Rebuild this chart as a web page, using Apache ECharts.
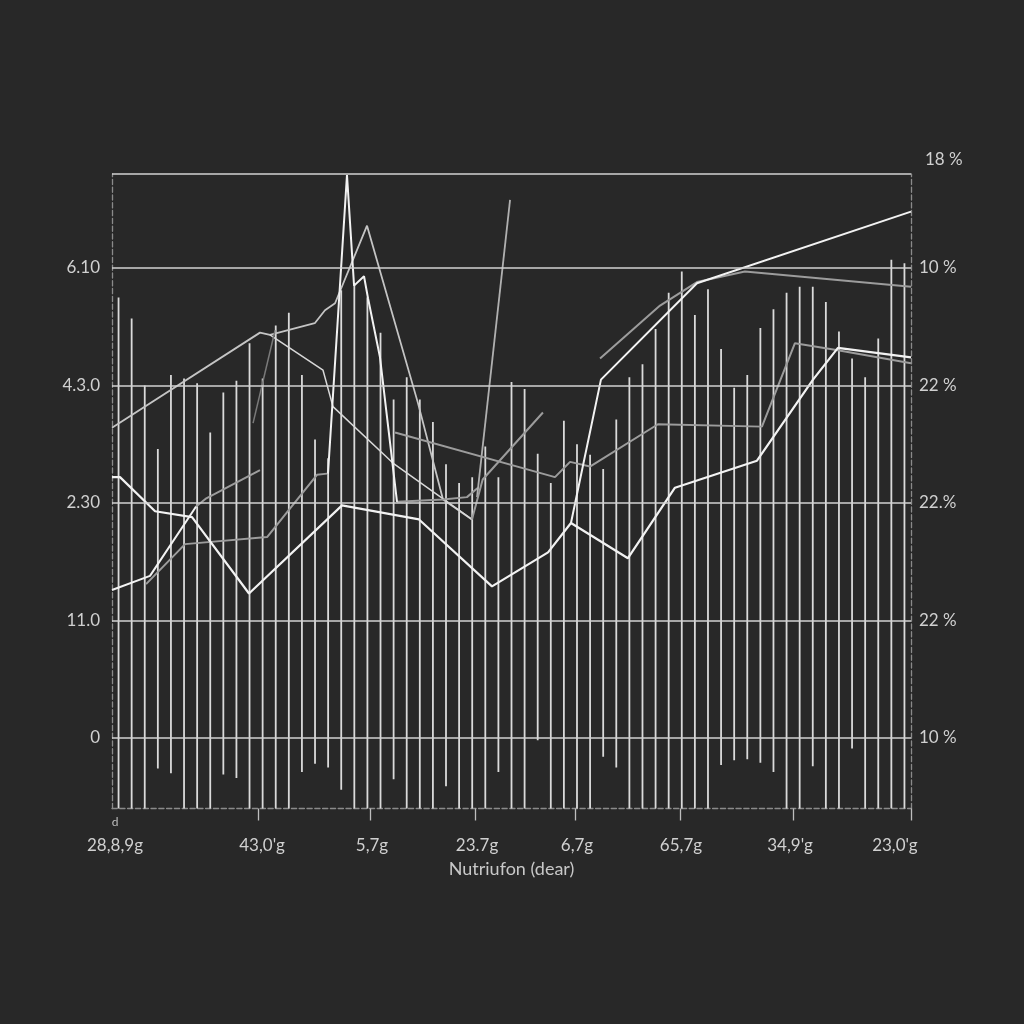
<!DOCTYPE html>
<html><head><meta charset="utf-8">
<script src="https://cdn.jsdelivr.net/npm/echarts@6/dist/echarts.min.js"></script>
<style>html,body{margin:0;padding:0;background:#282828;}#c{width:1024px;height:1024px;}</style>
</head><body><div id="c"></div>
<script>
// ---- data ----
const barTops = [3.75,3.57,3.00,2.46,3.09,3.06,3.02,2.60,2.94,3.04,
  3.36,3.06,3.51,3.62,3.09,2.54,2.38,3.81,3.86,3.75,
  3.45,2.88,3.07,2.88,2.69,2.33,2.17,2.22,2.48,2.22,
  3.03,2.97,2.42,2.17,2.70,2.50,2.41,2.29,2.71,3.07,
  3.18,3.48,3.79,3.97,3.60,3.82,3.31,2.98,3.09,3.49,
  3.65,3.79,3.84,3.84,3.71,3.46,3.23,3.07,3.40,4.07,4.04];
const barBottoms = [-0.6,-0.6,-0.6,-0.26,-0.30,-0.6,-0.6,-0.6,-0.31,-0.34,
  -0.6,-0.6,-0.6,-0.6,-0.29,-0.22,-0.25,-0.44,-0.6,-0.6,
  -0.6,-0.35,-0.6,-0.6,-0.6,-0.41,-0.6,-0.6,-0.6,-0.29,
  -0.6,-0.6,-0.02,-0.6,-0.6,-0.6,-0.6,-0.16,-0.25,-0.6,
  -0.6,-0.6,-0.6,-0.6,-0.6,-0.6,-0.23,-0.19,-0.18,-0.21,
  -0.29,-0.6,-0.6,-0.24,-0.6,-0.6,-0.09,-0.6,-0.6,-0.6,-0.6];

const lowerWhite = [[-0.5,2.22],[0.11,2.22],[2.79,1.93],[5.61,1.88],[9.96,1.23],[17.06,1.98],[22.94,1.86],[28.51,1.29],[32.79,1.58],[34.54,1.83],[38.89,1.53],[42.48,2.13],[48.74,2.36],[53.02,3.05],[54.92,3.32],[60.5,3.24]];
const upperWhite = [[34.54,1.83],[36.83,3.05],[44.16,3.87],[60.5,4.48]];
const upperGray = [[36.76,3.23],[41.34,3.68],[44.16,3.88],[47.82,3.97],[60.5,3.84]];
const middleGray = [[21.11,2.60],[33.32,2.22],[34.47,2.35],[35.99,2.31],[41.18,2.67],[49.12,2.65],[51.64,3.36],[54.92,3.30],[60.5,3.19]];
const leftGray = [[-0.5,2.64],[10.80,3.45],[11.56,3.43],[14.98,3.53],[15.76,3.64],[16.53,3.70],[18.97,4.36],[22.86,2.85],[24.77,2.03],[26.98,1.86]];
const spikeWhite = [[15.99,2.25],[17.44,4.79],[17.98,3.85],[18.74,3.93],[19.05,3.74],[19.96,3.24],[21.26,2.01]];
const riseGray = [[2.10,1.31],[5.08,1.65],[11.34,1.71],[15.15,2.24],[15.92,2.25]];
const flatGray = [[21.26,2.01],[24.77,2.03],[26.60,2.05],[27.44,2.13]];
const descWhite = [[11.56,3.43],[15.61,3.13],[16.37,2.82],[20.95,2.34],[26.98,1.86]];
const steepGray = [[27.37,2.05],[29.89,4.58]];
const shortGray = [[26.98,1.86],[27.8,2.2],[32.40,2.77]];
const startWhite = [[-0.5,1.26],[2.40,1.38],[5.92,1.97]];
const startGray = [[5.92,1.97],[6.7,2.04],[10.80,2.28]];
const faintGray = [[10.27,2.68],[11.95,3.47]];

const yTickValues = [0,1,2,3,4];
const yLeftLabels = ['0','11.0','2.30','4.3.0','6.10'];
const yRightLabels = ['10 %','22 %','22.%','22 %','10 %'];
const yRightTop = '18 %';
const yGridValues = [0,1,2,3,4,4.8];
const xLabelValues = [-0.27,10.95,19.35,27.37,35.0,42.94,51.26,59.27];
const xLabels = ['28,8,9g',"43,0'g",'5,7g','23.7g','6,7g','65,7g',"34,9'g","23,0'g"];
const xTickValues = [10.7,19.2,27.2,34.9,42.9,51.5,60.5];
const xAxisName = 'Nutriufon (dear)';

// ---- chart ----
const FONT = 'Lato, "Open Sans", sans-serif';
const chart = echarts.init(document.getElementById('c'));
const WHITE = '#f2f2f2', GRAY = '#9c9c9c', LIGHT = '#c4c4c4';
function lineSeries(data, color, width, z) {
  return {type:'line', data, symbol:'none', silent:true, z: z||4,
    lineStyle:{color, width: width||2}};
}
const barData = barTops.map((t,i)=>[i, barBottoms[i], t]);
const dashedAxis = {show:true, onZero:false, lineStyle:{color:'#8a8a8a', type:'dashed', width:1.3}};
chart.setOption({
  animation:false,
  backgroundColor:'#282828',
  grid:{left:112, right:113, top:174, bottom:215.5},
  xAxis:{type:'value', min:-0.5, max:60.5,
    axisLine:dashedAxis,
    axisTick:{show:true, customValues:xTickValues, length:12, lineStyle:{color:'#bdbdbd', width:1.3}},
    splitLine:{show:false},
    axisLabel:{customValues:xLabelValues, margin:2, color:'#d0d0d0', fontFamily:FONT,
      formatter:v=>{const i=xLabelValues.indexOf(v); return (i===0?'{d|d}':'{d| }')+'\n{m|'+xLabels[i]+'}';},
      rich:{d:{fontSize:12, lineHeight:24, color:'#bdbdbd', fontFamily:FONT},
            m:{fontSize:17, lineHeight:22, color:'#d0d0d0', fontFamily:FONT}}},
    name:xAxisName, nameLocation:'middle', nameGap:52,
    nameTextStyle:{color:'#c8c8c8', fontSize:18, fontFamily:FONT}
  },
  yAxis:[
    {type:'value', min:-0.6, max:4.8, position:'left',
     axisLine:dashedAxis,
     axisTick:{show:false}, splitLine:{show:false},
     axisLabel:{customValues:yTickValues, margin:12, color:'#d0d0d0', fontSize:17, fontFamily:FONT,
       formatter:v=>yLeftLabels[yTickValues.indexOf(v)]}},
    {type:'value', min:-0.6, max:4.8, position:'right',
     name:yRightTop, nameLocation:'end', nameGap:6,
     nameTextStyle:{align:'left', padding:[0,0,0,14], color:'#d0d0d0', fontSize:17, fontFamily:FONT},
     axisLine:dashedAxis,
     axisTick:{show:false}, splitLine:{show:false},
     axisLabel:{customValues:yTickValues, margin:8, color:'#d0d0d0', fontSize:17, fontFamily:FONT,
       formatter:v=>yRightLabels[yTickValues.indexOf(v)]}}
  ],
  series:[
    {type:'custom', data:barData, z:1, silent:true, encode:{x:0, y:[1,2]},
     renderItem:(params, api)=>{
       const x=api.value(0), lo=api.value(1), hi=api.value(2);
       const p1=api.coord([x,lo]), p2=api.coord([x,hi]);
       return {type:'line', shape:{x1:p1[0],y1:p1[1],x2:p2[0],y2:p2[1]},
         style:{stroke:'#dadada', lineWidth:1.8}};
     }},
    {type:'line', data:[], z:2, silent:true,
     markLine:{silent:true, symbol:['none','none'], label:{show:false},
       lineStyle:{color:'#d2d2d2', width:1.6, type:'solid'},
       data:yGridValues.map(v=>({yAxis:v}))}},
    lineSeries(leftGray, LIGHT, 1.8),
    lineSeries(descWhite, '#d8d8d8', 1.5),
    lineSeries(riseGray, GRAY, 2),
    lineSeries(flatGray, GRAY, 2),
    lineSeries(steepGray, '#b0b0b0', 1.8),
    lineSeries(shortGray, GRAY, 2),
    lineSeries(startGray, GRAY, 2),
    lineSeries(faintGray, '#7a7a7a', 1.5),
    lineSeries(middleGray, GRAY, 2),
    lineSeries(upperGray, GRAY, 2),
    lineSeries(spikeWhite, WHITE, 2),
    lineSeries(startWhite, WHITE, 2),
    lineSeries(upperWhite, WHITE, 2),
    lineSeries(lowerWhite, WHITE, 2.2)
  ]
});
</script></body></html>
